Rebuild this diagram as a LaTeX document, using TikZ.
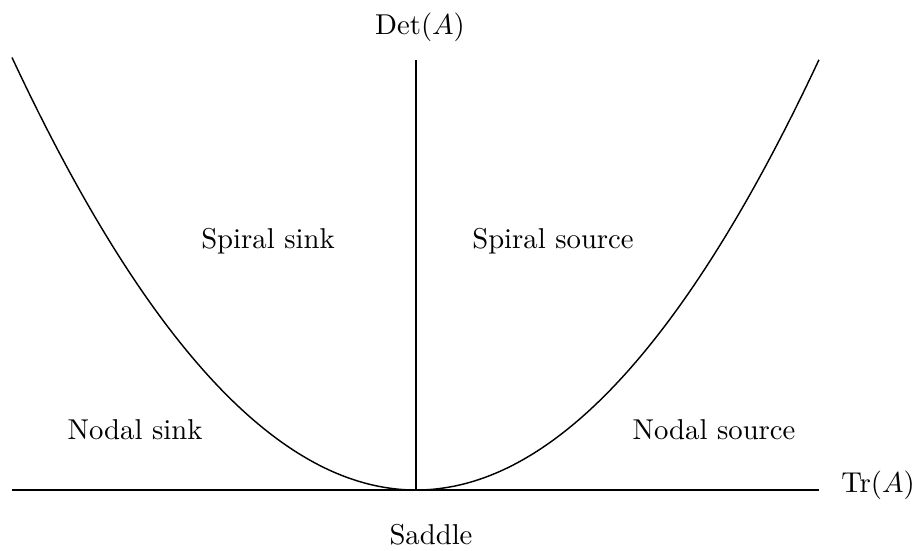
\documentclass[tikz,border=0pt]{standalone}
\begin{document}
\begin{tikzpicture}[x=0.3484pt,y=-0.3484pt,
  lbl/.style={inner sep=0pt,font=\normalsize},
  curve/.style={line width=0.5pt}]
\useasboundingbox (0,0) rectangle (924,550);
% axes
\coordinate (o) at (416,490);
\coordinate (xl) at (12,490);
\coordinate (xr) at (819,490);
\coordinate (yt) at (416,60);
\draw[curve] (xl) -- (xr);
\draw[curve] (o) -- (yt);
% parabola
\draw[curve] plot[domain=-4.04:4.03,samples=120,smooth] ({416+100*\x},{490-26.5*\x*\x});
% labels
\node[lbl] (tr) at (878,485) {Tr$(A)$};
\node[lbl] (det) at (420,27) {Det$(A)$};
\node[lbl] (saddle) at (431,535) {Saddle};
\node[lbl] (ssink) at (268,241) {Spiral sink};
\node[lbl] (ssource) at (553,241) {Spiral source};
\node[lbl] (nsink) at (135,430) {Nodal sink};
\node[lbl] (nsource) at (714,430) {Nodal source};
\end{tikzpicture}
\end{document}
